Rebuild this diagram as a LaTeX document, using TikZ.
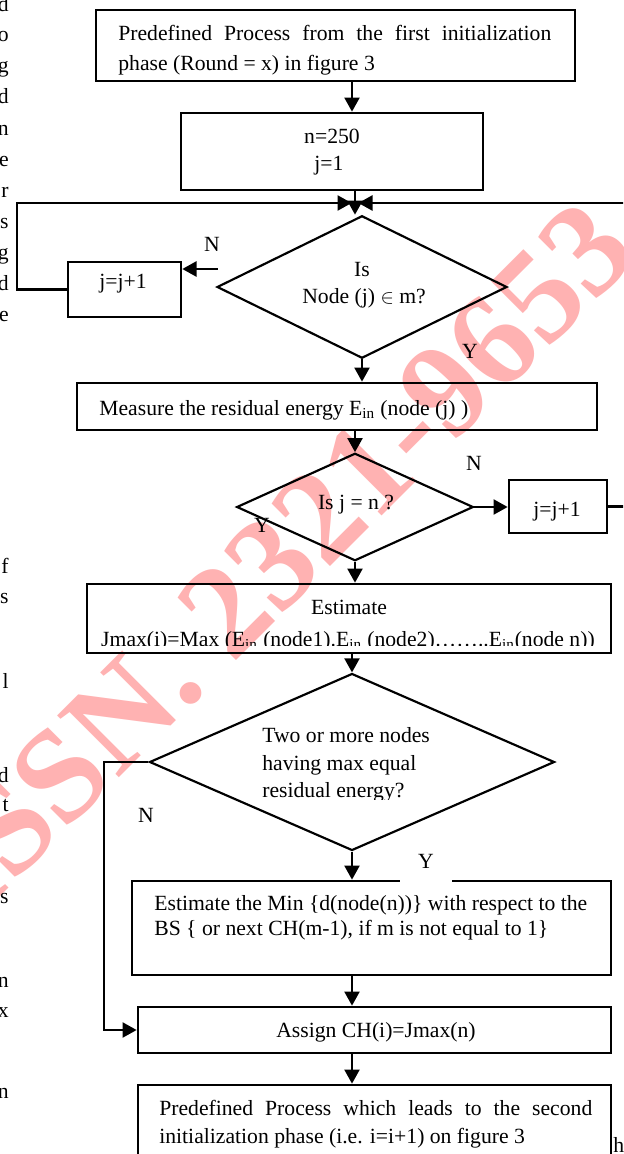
\documentclass[tikz,border=0pt]{standalone}
\usepackage{fontspec}
\setmainfont{Liberation Serif}
\usetikzlibrary{shapes.geometric,arrows.meta,calc,fit}
\begin{document}
\begin{tikzpicture}[x=0.6pt,y=-0.6pt,
  font=\fontsize{13}{19}\selectfont,
  box/.style={draw, line width=1.6pt, inner sep=0pt, rectangle},
  dia/.style={draw, line width=1.3pt, diamond, inner sep=0pt},
  arr/.style={line width=1.5pt, -{Triangle[length=8.5pt,width=9pt]}},
  txt/.style={inner sep=0pt, anchor=base},
  txtw/.style={inner sep=0pt, anchor=base west},
  mrg/.style={inner sep=0pt, anchor=base east},
  wmark/.style={rotate=45, text=red!30, inner sep=0pt,
    font=\fontsize{80}{80}\selectfont\bfseries},
]
\clip (0,0) rectangle (623,1154);
\fill[white] (0,0) rectangle (623,1154);
% watermark
\node[wmark] (wm) at (278,558) {ISSN. 2321-9653};

% stray letters of the neighbouring text column
\node[mrg] (ma) at (9,12) {d};
\node[mrg] (mb) at (9,42) {o};
\node[mrg] (mc) at (9,72) {g};
\node[mrg] (md) at (9,103) {d};
\node[mrg] (me) at (9,135) {n};
\node[mrg] (mf) at (9,166) {e};
\node[mrg] (mg) at (9,197) {r};
\node[mrg] (mh) at (9,228) {s};
\node[mrg] (mi) at (9,259) {g};
\node[mrg] (mj) at (9,290) {d};
\node[mrg] (mk) at (9,321) {e};
\node[mrg] (ml) at (9,573) {f};
\node[mrg] (mm) at (9,603) {s};
\node[mrg] (mn) at (9,688) {l};
\node[mrg] (mo) at (9,782) {d};
\node[mrg] (mp) at (9,811) {t};
\node[mrg] (mq) at (9,903) {s};
\node[mrg] (mr) at (9,987) {n};
\node[mrg] (ms) at (9,1017) {x};
\node[mrg] (mt) at (9,1098) {n};
\node[inner sep=0pt, anchor=base west] (mu) at (613,1152) {h};

% boxes
\node[box, fit={(96,10) (575,81)}] (b1) {};
\node[box, fit={(181,113) (483,190)}] (b2) {};
\node[box, fit={(68,262) (181,317)}] (jl) {};
\node[dia, minimum width=174pt, minimum height=85.5pt] (d1) at (362,287) {};
\node[box, fit={(77,383) (597,430)}] (b3) {};
\node[dia, minimum width=142pt, minimum height=64.5pt] (d2) at (355,507) {};
\node[box, fit={(509,480) (607,533)}] (jr) {};
\node[box, fit={(87,584) (611,653)}] (b4) {};
\node[dia, minimum width=243pt, minimum height=106.2pt] (d3) at (352,762) {};
\node[box, fit={(132,881) (611,975)}] (b5) {};
\node[box, fit={(138,1007) (611,1053)}] (as) {};
\node[box, fit={(138,1085) (611,1180)}] (b6) {};

% texts
\node[txtw] (t1a) at (118,40) {\makebox[259.8pt][s]{Predefined Process from the first initialization}};
\node[txtw] (t1b) at (118,70) {phase (Round = x) in figure 3};
\node[txt] (t2a) at (332,143) {n=250};
\node[txt] (t2b) at (329,170) {j=1};
\node[txt] (t3a) at (362,276) {Is};
\node[txt] (t3b) at (364,303) {Node (j) $\in$ m?};
\node[txt] (tjl) at (123,288) {j=j+1};
\node[txtw] (t4) at (99,415) {Measure the residual energy E\textsubscript{in} (node (j) )};
\node[txt] (t5) at (356,509) {Is j = n ?};
\node[txt] (tjr) at (557,516) {j=j+1};
\node[txt] (t6a) at (349,614) {Estimate};
\begin{scope}
  \clip (87,584) rectangle (611,645);
  \node[txt] (t6b) at (348,646) {Jmax(i)=Max (E\textsubscript{in} (node1).E\textsubscript{in} (node2)……..E\textsubscript{in}(node n))};
\end{scope}
\node[txtw] (t7a) at (262,742) {Two or more nodes};
\node[txtw] (t7b) at (262,770) {having max equal};
\begin{scope}
  \clip (150,700) rectangle (560,799);
  \node[txtw] (t7c) at (262,797) {residual energy?};
\end{scope}
\node[txtw] (t8a) at (154,910) {Estimate the Min \{d(node(n))\} with respect to the};
\node[txtw] (t8b) at (154,935) {BS \{ or next CH(m-1), if m is not equal to 1\}};
\node[txt] (t9) at (376,1037) {Assign CH(i)=Jmax(n)};
\node[txtw] (t10a) at (159,1115) {\makebox[259.8pt][s]{Predefined Process which leads to the second}};
\node[txtw] (t10b) at (159,1143) {initialization phase (i.e. i=i+1) on figure 3};

% branch labels
\node[txt] (n1) at (212,251) {N};
\node[txt] (y1) at (470,358) {Y};
\node[txt] (n2) at (474,470) {N};
\node[txt] (y2) at (262,532) {Y};
\node[txt] (n3) at (146,822) {N};

% connectors
\coordinate (sp) at (352,0);
\coordinate (m) at (355,203);
\coordinate (lc) at (17,203);
\coordinate (rc) at (640,203);
\coordinate (lc2) at (104,762);
\coordinate (nA) at ($(d1.west)+(2,-18)$);
\draw[arr] (b1.south -| sp) -- (b2.north -| sp);
\draw[arr] (b2.south -| m) -- (m |- d1.north);
\draw[arr, shorten >=2pt] (jl.west) -| (lc) -- (m);
\draw[arr, shorten >=2pt] (jr.east) -| (rc) -- (m);
\draw[arr] (nA) -- (nA -| jl.east);
\draw[arr] (d1.south) -- (d1.south |- b3.north);
\draw[arr] (b3.south -| d2.north) -- (d2.north);
\draw[arr] (d2.east) -- (d2.east -| jr.west);
\draw[arr] (d2.south) -- (d2.south |- b4.north);
\draw[arr] (b4.south -| d3.north) -- (d3.north);
\draw[arr] (d3.south) -- (d3.south |- b5.north);
\draw[arr] (d3.west) -- (lc2) |- (as.west);
\draw[arr] (b5.south -| sp) -- (as.north -| sp);
\draw[arr] (as.south -| sp) -- (b6.north -| sp);

% Y label whose white ground hides part of the box line
\node[fill=white, inner sep=0pt, minimum width=31pt, minimum height=25pt] (y3) at (426,861) {Y};
\end{tikzpicture}
\end{document}
